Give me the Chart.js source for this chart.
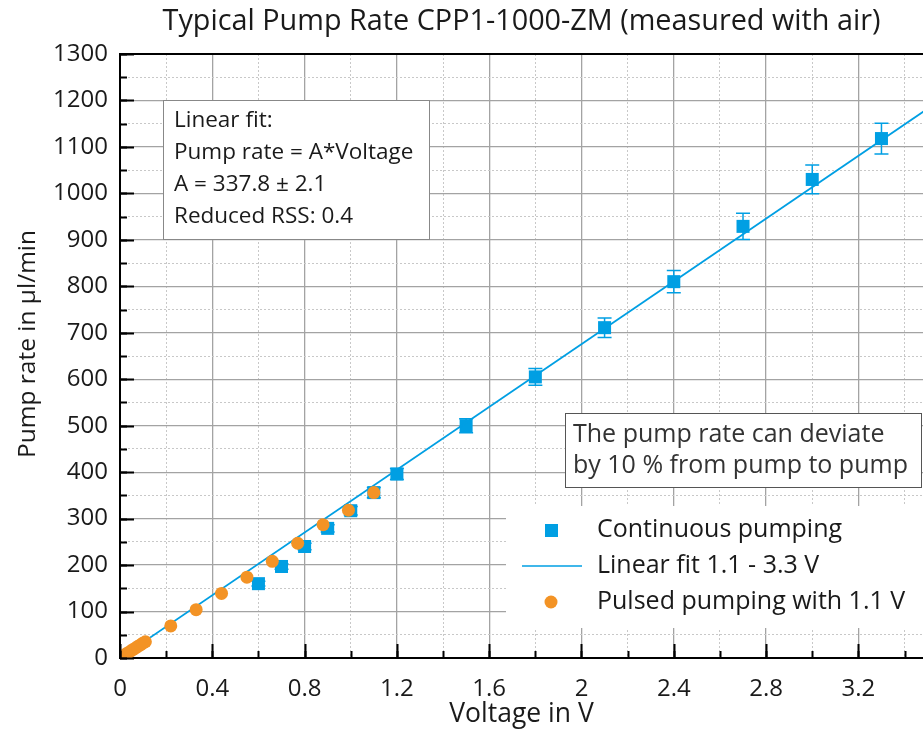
<!DOCTYPE html>
<html>
<head>
<meta charset="utf-8">
<script src="https://cdn.jsdelivr.net/npm/chart.js@4.4.1/dist/chart.umd.min.js"></script>
<style>
  html, body { margin: 0; padding: 0; background: #fff; }
  canvas { display: block; }
</style>
</head>
<body>
<canvas id="chart" width="923" height="732"></canvas>
<script>
// continuous pumping, with error bars
const contVoltage = [0.6, 0.7, 0.8, 0.9, 1.0, 1.1, 1.2, 1.5, 1.8, 2.1, 2.4, 2.7, 3.0, 3.3]
const contRate = [160, 197, 240, 279, 317, 356, 396, 500, 605, 711, 810, 929, 1030, 1118]
const contError = [5, 6, 7, 8, 9, 11, 12, 15, 18, 21, 24, 28, 31, 33]

// pulsed pumping with 1.1 V (duty cycle 1 % ... 100 %)
const pulsedVoltage = [0.011, 0.022, 0.033, 0.044, 0.055, 0.066, 0.077, 0.088, 0.099, 0.11,
                       0.22, 0.33, 0.44, 0.55, 0.66, 0.77, 0.88, 0.99, 1.1]
const pulsedRate = [4, 7, 11, 14, 18, 21, 25, 28, 32, 35,
                    69, 104, 139, 174, 208, 247, 287, 318, 356]

// linear fit 1.1 - 3.3 V, A = 337.8
const fitVoltage = [0, 3.5]
const fitRate = [0, 1182.3]

const xMin = 0, xMax = 3.48, xMajor = 0.4, xMinor = 0.2
const yMin = 0, yMax = 1300, yMajor = 100, yMinor = 50

const chartTitle = 'Typical Pump Rate CPP1-1000-ZM (measured with air)'
const xTitle = 'Voltage in V'
const yTitle = 'Pump rate in µl/min'
const fitText = ['Linear fit:', 'Pump rate = A*Voltage', 'A = 337.8 ± 2.1', 'Reduced RSS: 0.4']
const noteText = ['The pump rate can deviate', 'by 10 % from pump to pump']
const legendLabels = ['Continuous pumping', 'Linear fit 1.1 - 3.3 V', 'Pulsed pumping with 1.1 V']

const BLUE = '#009fe3'
const ORANGE = '#f39325'
const TEXT = '#1a1a1a'
const FONT = '"Open Sans", "Noto Sans", sans-serif'

function toPoints(xs, ys) {
    let pts = []
    for (let i = 0; i < xs.length; i++) {
        pts.push({x: xs[i], y: ys[i]})
    }
    return pts
}

function isMajor(value, major) {
    return Math.abs(value / major - Math.round(value / major)) < 1e-6
}

function inwardTicks(ctx, scale, len, area) {
    ctx.beginPath()
    scale.ticks.forEach(t => {
        const p = Math.round(scale.getPixelForValue(t.value)) + 0.5
        if (scale.isHorizontal()) {
            ctx.moveTo(p, area.bottom)
            ctx.lineTo(p, area.bottom - len)
        } else {
            ctx.moveTo(area.left, p)
            ctx.lineTo(area.left + len, p)
        }
    })
    ctx.stroke()
}

function noPadding(s) {
    s.paddingLeft = 0
    s.paddingRight = 0
    s.paddingTop = 0
    s.paddingBottom = 0
}

const decorations = {
    id: 'decorations',
    beforeDatasetsDraw(chart) {
        const {ctx, chartArea} = chart
        const x = chart.scales.x, y = chart.scales.y
        ctx.save()
        ctx.beginPath()
        ctx.rect(chartArea.left, chartArea.top, chartArea.right - chartArea.left, chartArea.bottom - chartArea.top)
        ctx.clip()
        ctx.strokeStyle = BLUE
        ctx.lineWidth = 1.5
        for (let i = 0; i < contVoltage.length; i++) {
            const px = x.getPixelForValue(contVoltage[i])
            const top = y.getPixelForValue(contRate[i] + contError[i])
            const bot = y.getPixelForValue(contRate[i] - contError[i])
            ctx.beginPath()
            ctx.moveTo(px, top); ctx.lineTo(px, bot)
            ctx.moveTo(px - 7, top); ctx.lineTo(px + 7, top)
            ctx.moveTo(px - 7, bot); ctx.lineTo(px + 7, bot)
            ctx.stroke()
        }
        ctx.restore()
    },
    afterDraw(chart) {
        const {ctx, chartArea} = chart
        ctx.save()

        // top frame line and inward ticks
        ctx.strokeStyle = '#000'
        ctx.lineWidth = 2
        ctx.beginPath()
        ctx.moveTo(chartArea.left - 1, chartArea.top)
        ctx.lineTo(chartArea.right, chartArea.top)
        ctx.stroke()
        inwardTicks(ctx, chart.scales.x, 14, chartArea)
        inwardTicks(ctx, chart.scales.x2, 7, chartArea)
        inwardTicks(ctx, chart.scales.y, 14, chartArea)
        inwardTicks(ctx, chart.scales.y2, 7, chartArea)

        // title
        ctx.fillStyle = TEXT
        ctx.font = '28.8px ' + FONT
        ctx.textAlign = 'center'
        ctx.textBaseline = 'middle'
        ctx.fillText(chartTitle, (chartArea.left + chartArea.right) / 2, 22)

        // y axis title
        ctx.save()
        ctx.translate(28, 344)
        ctx.rotate(-Math.PI / 2)
        ctx.font = '24.5px ' + FONT
        ctx.fillText(yTitle, 0, 0)
        ctx.restore()

        // fit result box
        ctx.fillStyle = '#fff'
        ctx.fillRect(163, 100, 266, 139)
        ctx.strokeStyle = '#888'
        ctx.lineWidth = 1
        ctx.strokeRect(163.5, 100.5, 266, 139)
        ctx.fillStyle = TEXT
        ctx.font = '22.5px ' + FONT
        ctx.textAlign = 'left'
        fitText.forEach((line, i) => ctx.fillText(line, 174, 121 + i * 31.7))

        // note box
        ctx.fillStyle = '#fff'
        ctx.fillRect(565, 413, 356, 74)
        ctx.strokeStyle = '#555'
        ctx.strokeRect(565.5, 413.5, 356, 74)
        ctx.fillStyle = '#333'
        ctx.font = '25px ' + FONT
        noteText.forEach((line, i) => ctx.fillText(line, 573, 435 + i * 31))

        // legend
        ctx.fillStyle = '#fff'
        ctx.fillRect(506, 506, 417, 122)
        ctx.fillStyle = BLUE
        ctx.fillRect(545, 524, 13, 13)
        ctx.strokeStyle = BLUE
        ctx.lineWidth = 1.5
        ctx.beginPath()
        ctx.moveTo(522, 566)
        ctx.lineTo(582, 566)
        ctx.stroke()
        ctx.fillStyle = ORANGE
        ctx.beginPath()
        ctx.arc(551, 602, 6.5, 0, Math.PI * 2)
        ctx.fill()
        ctx.fillStyle = TEXT
        ctx.font = '25px ' + FONT
        legendLabels.forEach((label, i) => ctx.fillText(label, 597, 530 + i * 36))

        ctx.restore()
    }
}

const chart = new Chart(document.getElementById('chart'), {
    type: 'scatter',
    data: {
        datasets: [
            {
                label: legendLabels[2],
                data: toPoints(pulsedVoltage, pulsedRate),
                backgroundColor: ORANGE,
                borderColor: ORANGE,
                borderWidth: 0,
                pointStyle: 'circle',
                pointRadius: 6.5,
                order: 0
            },
            {
                label: legendLabels[1],
                data: toPoints(fitVoltage, fitRate),
                showLine: true,
                borderColor: BLUE,
                borderWidth: 1.8,
                pointRadius: 0,
                order: 1
            },
            {
                label: legendLabels[0],
                data: toPoints(contVoltage, contRate),
                backgroundColor: BLUE,
                borderColor: BLUE,
                borderWidth: 0,
                pointStyle: 'rect',
                pointRadius: 9.2,
                order: 2
            }
        ]
    },
    options: {
        responsive: false,
        animation: false,
        events: [],
        devicePixelRatio: 1,
        layout: {
            autoPadding: false,
            padding: {top: 54, left: 0, right: 0, bottom: 0}
        },
        plugins: {
            legend: {display: false},
            title: {display: false},
            tooltip: {enabled: false}
        },
        scales: {
            x: {
                type: 'linear',
                position: 'bottom',
                min: xMin,
                max: xMax,
                afterFit: s => { s.height = 74; noPadding(s) },
                ticks: {
                    stepSize: xMajor,
                    includeBounds: false,
                    padding: 17,
                    color: TEXT,
                    font: {family: FONT, size: 24},
                    maxRotation: 0,
                    autoSkip: false,
                    callback: v => String(Math.round(v * 10) / 10)
                },
                grid: {color: '#a3a3a3', lineWidth: 1.3, drawTicks: false},
                border: {color: '#000', width: 2},
                title: {
                    display: true,
                    text: xTitle,
                    color: TEXT,
                    font: {family: FONT, size: 26.5},
                    padding: {top: 0, bottom: 2}
                }
            },
            x2: {
                type: 'linear',
                position: 'bottom',
                min: xMin,
                max: xMax,
                afterFit: s => { s.height = 0; noPadding(s) },
                ticks: {stepSize: xMinor, includeBounds: false, display: false},
                grid: {
                    color: c => isMajor(c.tick.value, xMajor) ? 'rgba(0,0,0,0)' : '#c8c8c8',
                    lineWidth: 1,
                    drawTicks: false
                },
                border: {display: false, dash: [2, 2]}
            },
            y: {
                type: 'linear',
                position: 'left',
                min: yMin,
                max: yMax,
                afterFit: s => { s.width = 120; noPadding(s) },
                ticks: {
                    stepSize: yMajor,
                    padding: 12,
                    color: TEXT,
                    font: {family: FONT, size: 24},
                    callback: v => String(v)
                },
                grid: {color: '#a3a3a3', lineWidth: 1.3, drawTicks: false},
                border: {color: '#000', width: 2},
                title: {display: false}
            },
            y2: {
                type: 'linear',
                position: 'left',
                min: yMin,
                max: yMax,
                afterFit: s => { s.width = 0; noPadding(s) },
                ticks: {stepSize: yMinor, display: false},
                grid: {
                    color: c => isMajor(c.tick.value, yMajor) ? 'rgba(0,0,0,0)' : '#c8c8c8',
                    lineWidth: 1,
                    drawTicks: false
                },
                border: {display: false, dash: [2, 2]}
            }
        }
    },
    plugins: [decorations]
})
</script>
</body>
</html>
